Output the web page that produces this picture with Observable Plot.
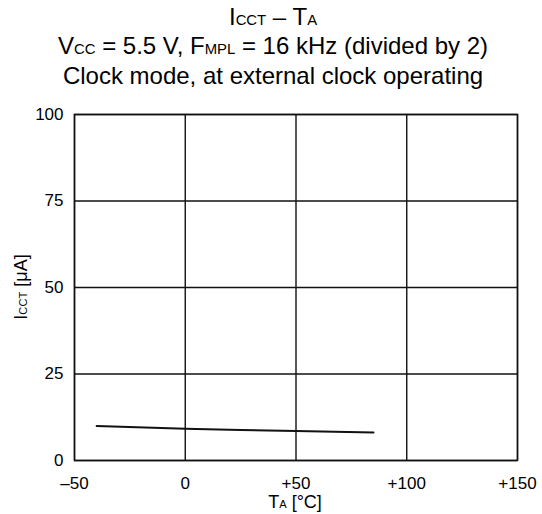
<!DOCTYPE html>
<html>
<head>
<meta charset="utf-8">
<script src="https://cdn.jsdelivr.net/npm/d3@7"></script>
<script src="https://cdn.jsdelivr.net/npm/@observablehq/plot@0.6"></script>
<style>
  body { margin: 0; background: #fff; }
  svg { font-family: "Liberation Sans", Arial, sans-serif; }
</style>
</head>
<body>
<div id="chart"></div>
<script>
const temperature = [-40, 0, 25, 50, 85];
const current = [10, 9.2, 8.8, 8.5, 8.1];
const xTicks = [-50, 0, 50, 100, 150];
const yTicks = [0, 25, 50, 75, 100];

const data = temperature.map((t, i) => ({t, i: current[i]}));
const fmtX = d => d > 0 ? "+" + d : d < 0 ? "\u2013" + Math.abs(d) : "0";

const plot = Plot.plot({
  width: 542,
  height: 514,
  marginLeft: 74,
  marginRight: 25,
  marginTop: 114,
  marginBottom: 54,
  style: {fontFamily: "Liberation Sans, Arial, sans-serif", fontSize: "17px", color: "#000", background: "#fff"},
  x: {domain: [-50, 150], ticks: xTicks, tickFormat: fmtX, label: null},
  y: {domain: [0, 100], ticks: yTicks, label: null},
  marks: [
    Plot.gridX(xTicks, {stroke: "#111", strokeOpacity: 1, strokeWidth: 1.4}),
    Plot.gridY(yTicks, {stroke: "#111", strokeOpacity: 1, strokeWidth: 1.4}),
    Plot.frame({stroke: "#111", strokeWidth: 1.5}),
    Plot.axisX({ticks: xTicks, tickFormat: fmtX, tickSize: 0, tickPadding: 16, fontSize: 17, label: null}),
    Plot.axisY({ticks: yTicks, tickSize: 0, tickPadding: 11, fontSize: 17, label: null}),
    Plot.line(data, {x: "t", y: "i", stroke: "#111", strokeWidth: 2})
  ]
});
document.getElementById("chart").appendChild(plot);

const svg = d3.select(plot);
const cx = 273;
function addText(x, y, parts, size, rotate) {
  const t = svg.append("text")
    .attr("x", x).attr("y", y)
    .attr("text-anchor", "middle")
    .attr("font-size", size)
    .attr("fill", "#000");
  if (rotate) t.attr("transform", `rotate(-90 ${x} ${y})`);
  parts.forEach(([s, sub]) => {
    t.append("tspan").attr("font-size", sub ? size * 0.62 : size).text(s);
  });
}
addText(cx, 25, [["I", 0], ["CCT", 1], [" \u2013 T", 0], ["A", 1]], 24);
addText(cx, 54, [["V", 0], ["CC", 1], [" = 5.5 V, F", 0], ["MPL", 1], [" = 16 kHz (divided by 2)", 0]], 24);
addText(cx, 84, [["Clock mode, at external clock operating", 0]], 24);
addText(295, 508, [["T", 0], ["A", 1], [" [\u00b0C]", 0]], 18);
addText(27, 287, [["I", 0], ["CCT", 1], [" [\u03bcA]", 0]], 18, true);
</script>
</body>
</html>
